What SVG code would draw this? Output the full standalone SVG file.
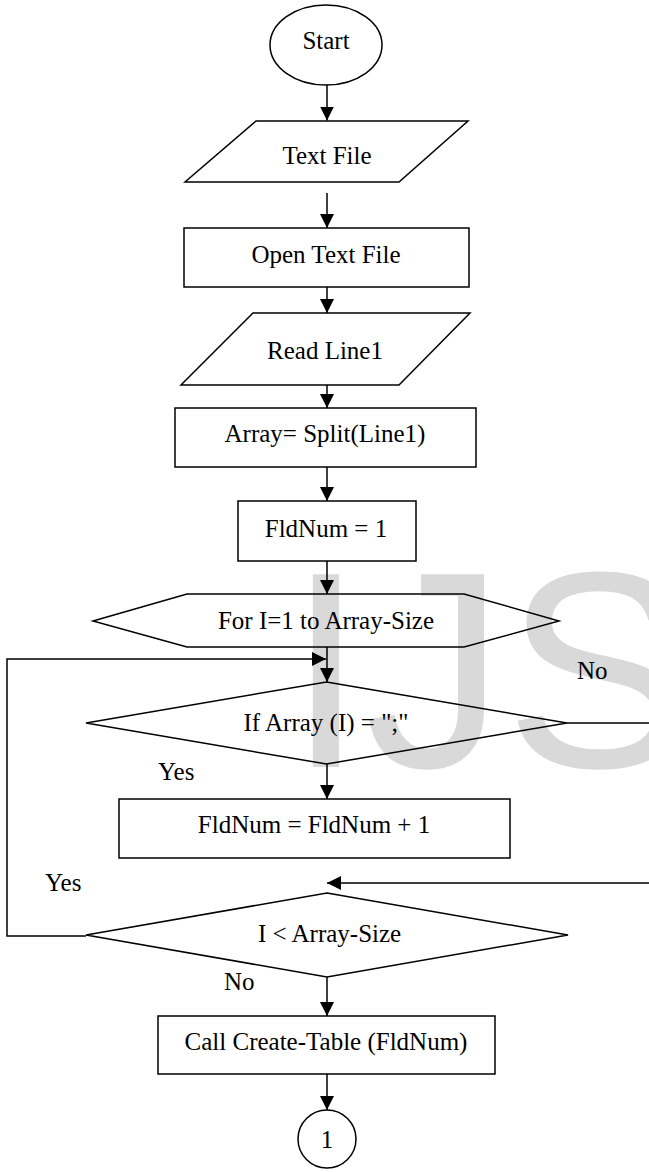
<svg xmlns="http://www.w3.org/2000/svg" width="649" height="1172" viewBox="0 0 649 1172">
  <style>
    .shape { fill: none; stroke: #000; stroke-width: 1.5; }
    .box { fill: #fff; stroke: #000; stroke-width: 1.5; }
    .edge { fill: none; stroke: #000; stroke-width: 1.5; }
    .lbl { font-family: "Liberation Serif", "Times New Roman", serif; font-size: 25px; fill: #000; }
    .mid { text-anchor: middle; }
    .mark { font-family: "Liberation Sans", Arial, sans-serif; font-size: 280px; fill: #d9d9d9; }
  </style>
  <defs>
    <marker id="arrow" markerUnits="userSpaceOnUse" markerWidth="14" markerHeight="14" refX="14" refY="7" orient="auto">
      <path d="M0,0 L14,7 L0,14 z" fill="#000"/>
    </marker>
  </defs>

  <rect x="0" y="0" width="649" height="1172" fill="#fff"/>

  <!-- background watermark -->
  <text class="mark" x="287" y="767">IJS</text>

  <g id="start">
    <ellipse class="shape" cx="326" cy="45" rx="56" ry="40"/>
    <text class="lbl mid" x="326" y="49">Start</text>
  </g>

  <g id="text-file">
    <polygon class="shape" points="256,121 468,121 399,182 185,182"/>
    <text class="lbl mid" x="327" y="164">Text File</text>
  </g>

  <g id="open-text-file">
    <rect class="shape" x="184" y="228" width="285" height="59"/>
    <text class="lbl mid" x="326" y="263">Open Text File</text>
  </g>

  <g id="read-line1">
    <polygon class="shape" points="253,313 470,313 399,385 181,385"/>
    <text class="lbl mid" x="325" y="359">Read Line1</text>
  </g>

  <g id="split">
    <rect class="shape" x="175" y="408" width="301" height="59"/>
    <text class="lbl mid" x="325" y="442">Array= Split(Line1)</text>
  </g>

  <g id="fldnum-init">
    <rect class="box" x="238" y="501" width="178" height="60"/>
    <text class="lbl mid" x="326" y="537">FldNum = 1</text>
  </g>

  <g id="for-loop">
    <polygon class="shape" points="93,621 187,594 464,594 559,621 464,647 187,647"/>
    <text class="lbl mid" x="326" y="629">For I=1 to Array-Size</text>
  </g>

  <g id="if-separator">
    <polygon class="shape" points="326.5,682 567,723 326.5,764 86,723"/>
    <text class="lbl mid" x="326" y="731">If Array (I) = ";"</text>
  </g>

  <g id="fldnum-inc">
    <rect class="shape" x="119" y="799" width="391" height="59"/>
    <text class="lbl mid" x="314" y="833">FldNum = FldNum + 1</text>
  </g>

  <g id="loop-test">
    <polygon class="shape" points="327,893 568,935 327,977 86,935"/>
    <text class="lbl" x="258" y="942">I &lt; Array-Size</text>
  </g>

  <g id="create-table">
    <rect class="shape" x="158" y="1016" width="337" height="58"/>
    <text class="lbl mid" x="326" y="1050">Call Create-Table (FldNum)</text>
  </g>

  <g id="connector-1">
    <circle class="shape" cx="327" cy="1139" r="29"/>
    <text class="lbl mid" x="327" y="1148">1</text>
  </g>

  <g id="connectors">
    <line class="edge" x1="327" y1="85" x2="327" y2="120.5" marker-end="url(#arrow)"/>
    <line class="edge" x1="327" y1="193" x2="327" y2="228" marker-end="url(#arrow)"/>
    <line class="edge" x1="327" y1="287" x2="327" y2="313" marker-end="url(#arrow)"/>
    <line class="edge" x1="327" y1="385" x2="327" y2="408" marker-end="url(#arrow)"/>
    <line class="edge" x1="327" y1="467" x2="327" y2="501" marker-end="url(#arrow)"/>
    <line class="edge" x1="327" y1="561" x2="327" y2="594" marker-end="url(#arrow)"/>
    <line class="edge" x1="327" y1="647" x2="327" y2="682" marker-end="url(#arrow)"/>
    <polyline class="edge" points="86,936 7,936 7,659 326,659" marker-end="url(#arrow)"/>
    <line class="edge" x1="327" y1="764" x2="327" y2="799" marker-end="url(#arrow)"/>
    <polyline class="edge" points="567,723 660,723 660,883 327,883" marker-end="url(#arrow)"/>
    <line class="edge" x1="327" y1="977" x2="327" y2="1016" marker-end="url(#arrow)"/>
    <line class="edge" x1="327" y1="1074" x2="327" y2="1110" marker-end="url(#arrow)"/>
  </g>

  <g id="branch-labels">
    <text class="lbl" x="577" y="679">No</text>
    <text class="lbl" x="158" y="780">Yes</text>
    <text class="lbl" x="45" y="891">Yes</text>
    <text class="lbl" x="224" y="990">No</text>
  </g>
</svg>
